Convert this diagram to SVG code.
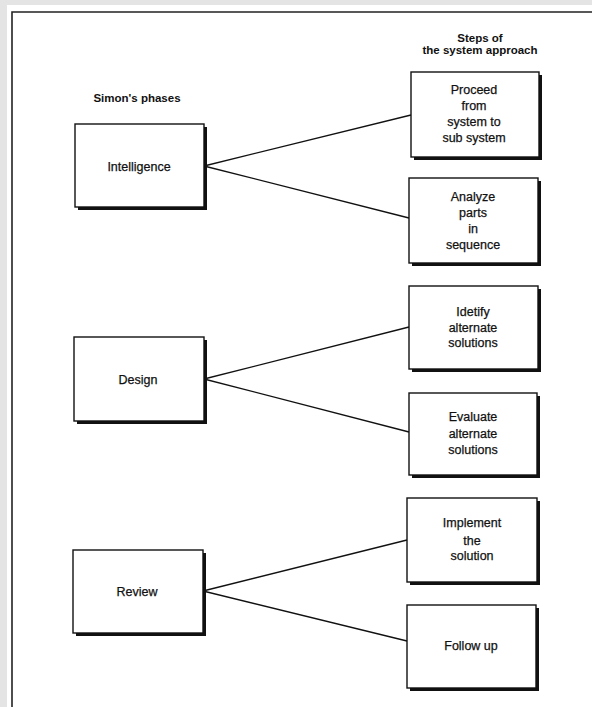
<svg xmlns="http://www.w3.org/2000/svg" width="592" height="707" viewBox="0 0 592 707">
  <style>
    .box { fill: #ffffff; stroke: #111; stroke-width: 1.4; }
    .shadow { fill: #111; }
    .lbl { font-family: "Liberation Sans", Arial, sans-serif; font-size: 12.5px; fill: #111; text-anchor: middle; stroke: #111; stroke-width: 0.25; }
    .hdr { font-family: "Liberation Sans", Arial, sans-serif; font-size: 11.5px; font-weight: bold; fill: #111; text-anchor: middle; }
    .conn { stroke: #111; stroke-width: 1.3; fill: none; }
  </style>

  <!-- page -->
  <rect x="0" y="0" width="592" height="707" fill="#e4e4e4"/>
  <rect x="7" y="5" width="585" height="702" fill="#ffffff"/>
  <path d="M12,707 V12 H592" fill="none" stroke="#222" stroke-width="1.6"/>

  <!-- headings -->
  <text class="hdr" x="137" y="102">Simon's phases</text>
  <text class="hdr" x="480" y="42">Steps of</text>
  <text class="hdr" x="480" y="54">the system approach</text>

  <!-- connectors -->
  <g id="connectors">
    <line class="conn" x1="204" y1="166" x2="411" y2="115"/>
    <line class="conn" x1="204" y1="166" x2="409" y2="218"/>
    <line class="conn" x1="204" y1="379" x2="409" y2="327"/>
    <line class="conn" x1="204" y1="379" x2="409" y2="432"/>
    <line class="conn" x1="203" y1="591" x2="407" y2="540"/>
    <line class="conn" x1="203" y1="591" x2="407" y2="641"/>
  </g>

  <!-- Simon's phases -->
  <g id="intelligence">
    <rect class="shadow" x="78" y="127" width="129" height="83"/>
    <rect class="box" x="75" y="124" width="129" height="83"/>
    <text class="lbl" x="139" y="171">Intelligence</text>
  </g>
  <g id="design">
    <rect class="shadow" x="77" y="340" width="130" height="84"/>
    <rect class="box" x="74" y="337" width="130" height="84"/>
    <text class="lbl" x="138" y="384">Design</text>
  </g>
  <g id="review">
    <rect class="shadow" x="76" y="553" width="130" height="83"/>
    <rect class="box" x="73" y="550" width="130" height="83"/>
    <text class="lbl" x="137" y="596">Review</text>
  </g>

  <!-- steps of the system approach -->
  <g id="proceed">
    <rect class="shadow" x="414" y="75" width="128" height="85"/>
    <rect class="box" x="411" y="72" width="128" height="85"/>
    <text class="lbl" x="474" y="94">Proceed</text>
    <text class="lbl" x="474" y="110">from</text>
    <text class="lbl" x="474" y="126">system to</text>
    <text class="lbl" x="474" y="142">sub system</text>
  </g>
  <g id="analyze">
    <rect class="shadow" x="412" y="181" width="129" height="85"/>
    <rect class="box" x="409" y="178" width="129" height="85"/>
    <text class="lbl" x="473" y="201">Analyze</text>
    <text class="lbl" x="473" y="217">parts</text>
    <text class="lbl" x="473" y="233">in</text>
    <text class="lbl" x="473" y="249">sequence</text>
  </g>
  <g id="identify">
    <rect class="shadow" x="412" y="289" width="129" height="83"/>
    <rect class="box" x="409" y="286" width="129" height="83"/>
    <text class="lbl" x="473" y="316">Idetify</text>
    <text class="lbl" x="473" y="332">alternate</text>
    <text class="lbl" x="473" y="347">solutions</text>
  </g>
  <g id="evaluate">
    <rect class="shadow" x="412" y="396" width="128" height="82"/>
    <rect class="box" x="409" y="393" width="128" height="82"/>
    <text class="lbl" x="473" y="421">Evaluate</text>
    <text class="lbl" x="473" y="438">alternate</text>
    <text class="lbl" x="473" y="454">solutions</text>
  </g>
  <g id="implement">
    <rect class="shadow" x="410" y="501" width="130" height="84"/>
    <rect class="box" x="407" y="498" width="130" height="84"/>
    <text class="lbl" x="472" y="527">Implement</text>
    <text class="lbl" x="472" y="545">the</text>
    <text class="lbl" x="472" y="560">solution</text>
  </g>
  <g id="followup">
    <rect class="shadow" x="410" y="608" width="129" height="83"/>
    <rect class="box" x="407" y="605" width="129" height="83"/>
    <text class="lbl" x="471" y="650">Follow up</text>
  </g>
</svg>
